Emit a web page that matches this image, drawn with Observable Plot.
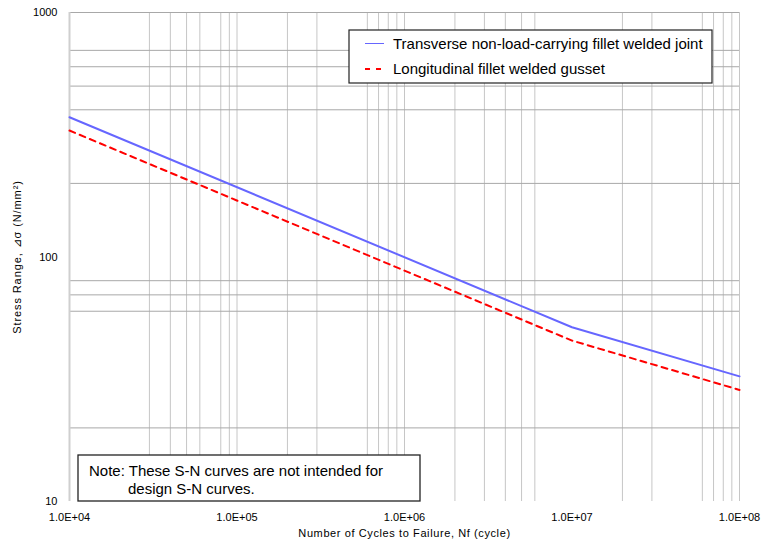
<!DOCTYPE html>
<html><head><meta charset="utf-8">
<script src="https://cdn.jsdelivr.net/npm/d3@7"></script>
<script src="https://cdn.jsdelivr.net/npm/@observablehq/plot@0.6"></script>
<style>body{margin:0;background:#fff} svg{display:block}</style>
</head><body><div id="chart"></div>
<script>
const cycles = [1e4, 1e7, 1e8];
const transverse = [373, 51.6, 32.5];
const longitudinal = [329, 45.5, 28.6];
const seriesNames = ["Transverse non-load-carrying fillet welded joint", "Longitudinal fillet welded gusset"];
const xTicks = [1e4, 1e5, 1e6, 1e7, 1e8];
const xTickLabels = ["1.0E+04", "1.0E+05", "1.0E+06", "1.0E+07", "1.0E+08"];
const yTicks = [10, 100, 1000];
const yTickLabels = ["10", "100", "1000"];
const xGrid = [3e4,4e4,5e4,6e4,8e4,9e4,1e5,2e5,3e5,6e5,7e5,8e5,9e5,1e6,2e6,3e6,4e6,5e6,6e6,2e7,3e7,6e7,7e7,8e7,9e7,1e8];
const yGrid = [20, 60, 70, 80, 200, 400, 500, 600, 700, 1000];
const noteLines = ["Note: These S-N curves are not intended for", "design S-N curves."];
const xTitle = "Number of Cycles to Failure, Nf (cycle)";
const yTitle = "Stress Range, \u22BF\u03C3 (N/mm\u00B2)";

const rowsT = cycles.map((c, i) => ({x: c, y: transverse[i]}));
const rowsL = cycles.map((c, i) => ({x: c, y: longitudinal[i]}));
const xFmt = new Map(xTicks.map((t, i) => [t, xTickLabels[i]]));
const yFmt = new Map(yTicks.map((t, i) => [t, yTickLabels[i]]));
const font = "'Liberation Sans', Arial, sans-serif";

const chart = Plot.plot({
  width: 761, height: 544,
  marginLeft: 69, marginRight: 22, marginTop: 12, marginBottom: 43,
  style: {fontFamily: font, fontSize: "11px", background: "white", color: "#000"},
  x: {type: "log", domain: [1e4, 1e8]},
  y: {type: "log", domain: [10, 1000]},
  marks: [
    Plot.ruleX(xGrid, {stroke: "#c6c6c6", strokeWidth: 1}),
    Plot.ruleY(yGrid, {stroke: "#a8a8a8", strokeWidth: 1}),
    Plot.ruleX([1e4], {stroke: "#cfcfcf", strokeWidth: 2}),
    Plot.line(rowsT, {x: "x", y: "y", stroke: "#6666ff", strokeWidth: 2}),
    Plot.line(rowsL, {x: "x", y: "y", stroke: "#ff0000", strokeWidth: 2, strokeDasharray: "6,5"}),
    Plot.axisX(xTicks, {tickSize: 0, tickPadding: 12, tickFormat: d => xFmt.get(d), label: null, fontSize: 11}),
    Plot.axisY(yTicks, {tickSize: 0, tickPadding: 12, tickFormat: d => yFmt.get(d), label: null, fontSize: 11}),
    Plot.text([xTitle], {frameAnchor: "bottom", dy: 35, fontSize: 11, textAnchor: "middle"}),
    Plot.text([yTitle], {frameAnchor: "left", dx: -52, rotate: -90, fontSize: 11, textAnchor: "middle"})
  ]
});
document.getElementById("chart").appendChild(chart);

const svg = d3.select(chart);
svg.selectAll("text").each(function() {
  const t = this.textContent;
  if (t === xTitle) d3.select(this).attr("letter-spacing", "0.6px");
  if (t === yTitle) d3.select(this).attr("letter-spacing", "0.9px");
});
// legend
const lg = svg.append("g").attr("font-family", font).attr("font-size", 15).attr("text-anchor", "start").attr("fill", "#000");
lg.append("rect").attr("x", 349).attr("y", 30).attr("width", 363).attr("height", 53)
  .attr("fill", "white").attr("stroke", "#222").attr("stroke-width", 1.2);
lg.append("line").attr("x1", 365).attr("x2", 384).attr("y1", 43.5).attr("y2", 43.5)
  .attr("stroke", "#6666ff").attr("stroke-width", 1);
lg.append("line").attr("x1", 365).attr("x2", 386).attr("y1", 69).attr("y2", 69)
  .attr("stroke", "#ff0000").attr("stroke-width", 2).attr("stroke-dasharray", "5,6");
seriesNames.forEach((n, i) => {
  lg.append("text").attr("x", 393).attr("y", 43 + i * 25.5).attr("text-anchor", "start")
    .attr("dominant-baseline", "central").text(n);
});
// note
const ng = svg.append("g").attr("font-family", font).attr("font-size", 15).attr("text-anchor", "start").attr("fill", "#000");
ng.append("rect").attr("x", 78).attr("y", 455).attr("width", 342).attr("height", 46)
  .attr("fill", "white").attr("stroke", "#222").attr("stroke-width", 1.3);
ng.append("text").attr("x", 89).attr("y", 470).attr("text-anchor", "start").attr("dominant-baseline", "central").text(noteLines[0]);
ng.append("text").attr("x", 128).attr("y", 488).attr("text-anchor", "start").attr("dominant-baseline", "central").text(noteLines[1]);
</script>
</body></html>
